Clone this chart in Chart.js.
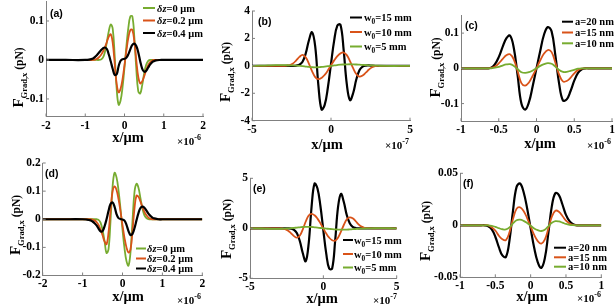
<!DOCTYPE html>
<html>
<head>
<meta charset="utf-8">
<script src="https://cdn.jsdelivr.net/npm/chart.js@4.4.0/dist/chart.umd.min.js"></script>
<style>
html, body { margin: 0; padding: 0; background: #fff; overflow: hidden; width: 616px; height: 306px; }
canvas { position: absolute; }
</style>
</head>
<body>
<script>
// ---- data ----
// (a),(d): x in units of 1e-6
var aX = [-2,-1.5,-1,-0.9,-0.8, -0.75,-0.7,-0.65,-0.6,-0.55, -0.5,-0.45,-0.4,-0.35,-0.3,
          -0.25,-0.2,-0.15,-0.1,-0.05, 0, 0.05,0.1,0.15,0.2,0.25, 0.3,0.35,0.4,0.45,0.5,
          0.55,0.6,0.65,0.7,0.75, 0.8,0.9,1,1.5,2];
var aGreen  = [0,0,0,0,0, 0,0,0,0.001,0.006, 0.02,0.046,0.074,0.091,0.08, 0.011,-0.073,-0.115,-0.104,-0.07,
               -0.019, 0.037,0.084,0.112,0.112,0.059, -0.022,-0.08,-0.086,-0.065,-0.035, -0.013,-0.003,0,0,0, 0,0,0,0,0];
var aOrange = [0,0,0,0,0, 0.001,0.003,0.007,0.013,0.021, 0.032,0.046,0.06,0.066,0.044, -0.0085,-0.061,-0.083,-0.074,-0.049,
               -0.013, 0.025,0.058,0.077,0.077,0.048, 0,-0.043,-0.06,-0.055,-0.042, -0.027,-0.014,-0.006,-0.002,0, 0,0,0,0,0];
var aBlack  = [0,0,0,0.001,0.004, 0.008,0.013,0.019,0.025,0.03, 0.032,0.028,0.014,-0.004,-0.023, -0.038,-0.037,-0.016,-0.002,0.002,
               0.003, 0.006,0.015,0.028,0.039,0.042, 0.036,0.02,-0.003,-0.022,-0.03, -0.028,-0.02,-0.012,-0.006,-0.003, -0.001,0,0,0,0];
var dGreen  = [0,0,0,0,0, 0,0,0,-0.002,-0.012, -0.038,-0.078,-0.12,-0.106,-0.005, 0.113,0.165,0.149,0.103,0.037,
               -0.037, -0.103,-0.149,-0.165,-0.118,-0.007, 0.096,0.126,0.112,0.075,0.038, 0.014,0.004,0,0,0, 0,0,0,0,0];
var dOrange = [0,0,0,0,0, -0.001,-0.004,-0.01,-0.02,-0.036, -0.057,-0.079,-0.089,-0.047,0.03, 0.098,0.117,0.104,0.072,0.028,
               -0.021, -0.066,-0.1,-0.118,-0.108,-0.043, 0.038,0.084,0.08,0.063,0.043, 0.026,0.014,0.006,0.002,0, 0,0,0,0,0];
var dBlack  = [0,0,0,-0.001,-0.004, -0.008,-0.014,-0.022,-0.033,-0.043, -0.042,-0.025,0,0.03,0.054, 0.06,0.045,0.018,0.004,0.001,
               -0.001, -0.005,-0.02,-0.042,-0.056,-0.052, -0.032,-0.004,0.022,0.04,0.045, 0.041,0.031,0.02,0.012,0.006, 0.003,0,0,0,0];

// (b),(e): x in units of 1e-7
var bX = [-5,-4.5,-4,-3.5,-3, -2.8,-2.6,-2.4,-2.2,-2, -1.8,-1.6,-1.4,-1.2,-1, -0.8,-0.6,-0.4,-0.2,0,
          0.2,0.4,0.6,0.8,1, 1.2,1.4,1.6,1.8,2, 2.2,2.4,2.6,2.8,3, 3.5,4,4.5,5];
var bBlack  = [0,0,0,0,0, 0,0,0,0.02,0.08, 0.3,0.9,1.85,2.45,1.42, -1.4,-3.18,-2.85,-1.6,0.15,
               1.84,2.93,3.0,1.17,-1.34, -2.5,-2.0,-1.0,-0.32,-0.06, 0.02,0.03,0.01,0,0, 0,0,0,0];
var bOrange = [0,0,0,0,0, 0.02,0.06,0.18,0.4,0.65, 0.8,0.62,0.17,-0.39,-0.82, -0.97,-0.88,-0.66,-0.34,0.04,
               0.4,0.71,0.91,0.97,0.78, 0.35,-0.17,-0.6,-0.79,-0.7, -0.5,-0.27,-0.1,-0.02,0, 0,0,0,0];
var bGreen  = [0,0.01,0.03,0.05,0.05, 0.045,0.04,0.03,0.015,0, -0.02,-0.05,-0.08,-0.1,-0.11, -0.1,-0.08,-0.055,-0.025,0,
               0.03,0.06,0.085,0.1,0.11, 0.115,0.11,0.1,0.085,0.07, 0.055,0.04,0.03,0.02,0.01, -0.005,-0.01,-0.005,0];
var eBlack  = [0,0,0,0,0, 0,0,0,-0.03,-0.15, -0.5,-1.3,-2.5,-3.3,-1.52, 2.2,4.46,3.98,2.23,-0.22,
               -2.56,-4.04,-4.02,-1.34,2.11, 3.44,2.6,1.3,0.5,0.15, 0.03,0,0,0,0, 0,0,0,0];
var eOrange = [0,0,0,0,0, -0.02,-0.08,-0.24,-0.5,-0.78, -0.94,-0.73,-0.1,0.68,1.28, 1.45,1.3,0.97,0.51,-0.02,
               -0.53,-0.94,-1.19,-1.24,-0.94, -0.34,0.355,0.9,1.1,1.0, 0.72,0.4,0.17,0.05,0.01, 0,0,0,0];
var eGreen  = [0,-0.01,-0.03,-0.05,-0.05, -0.04,-0.03,-0.01,0.01,0.04, 0.07,0.1,0.13,0.15,0.15, 0.13,0.1,0.07,0.03,0,
               -0.03,-0.06,-0.09,-0.11,-0.13, -0.14,-0.14,-0.13,-0.11,-0.09, -0.07,-0.05,-0.035,-0.02,-0.01, 0.005,0.01,0.005,0];

// (c),(f): x in units of 1e-6
var cX = [-1,-0.9,-0.8,-0.7,-0.65, -0.6,-0.55,-0.5,-0.45,-0.4, -0.35,-0.3,-0.25,-0.2,-0.15, -0.1,-0.05,0,0.05,0.1,
          0.15,0.2,0.25,0.3,0.35, 0.4,0.45,0.5,0.55,0.6, 0.65,0.7,0.8,0.9,1];
var cBlack  = [0,0,0,0,0, 0.002,0.012,0.032,0.06,0.085, 0.093,0.057,-0.02,-0.1,-0.117, -0.096,-0.05,0,0.05,0.096,
               0.117,0.105,0.037,-0.044,-0.091, -0.088,-0.065,-0.035,-0.013,-0.003, 0,0,0,0,0];
var cOrange = [0,0,0,0,0, 0.001,0.005,0.014,0.026,0.037, 0.04,0.025,-0.008,-0.042,-0.049, -0.04,-0.021,0,0.023,0.042,
               0.052,0.046,0.016,-0.018,-0.037, -0.036,-0.027,-0.014,-0.005,-0.001, 0,0,0,0,0];
var cGreen  = [0,0,0,0,0, 0,0.002,0.004,0.008,0.011, 0.012,0.007,-0.002,-0.011,-0.013, -0.011,-0.006,0,0.007,0.012,
               0.015,0.013,0.005,-0.005,-0.01, -0.01,-0.007,-0.004,-0.001,0, 0,0,0,0,0];
var fBlack  = [0,0,0,0,0, -0.001,-0.004,-0.011,-0.021,-0.029, -0.0305,-0.0147,0.0139,0.0367,0.0402, 0.032,0.0164,-0.003,-0.0216,-0.0353,
               -0.041,-0.032,-0.0078,0.0184,0.031, 0.029,0.02,0.01,0.004,0.001, 0,0,0,0,0];
var fOrange = [0,0,0,0,0, 0,-0.002,-0.005,-0.01,-0.0135, -0.0143,-0.0068,0.006,0.0158,0.0173, 0.0138,0.007,-0.0013,-0.0093,-0.0152,
               -0.0176,-0.0138,-0.0034,0.0083,0.014, 0.013,0.009,0.0045,0.0018,0.0005, 0,0,0,0,0];
var fGreen  = [0,0,0,0,0, 0,-0.0005,-0.0015,-0.0028,-0.0038, -0.004,-0.002,0.0018,0.0049,0.0054, 0.0043,0.0022,-0.0004,-0.003,-0.0047,
               -0.0055,-0.0043,-0.001,0.0024,0.004, 0.0037,0.0026,0.0013,0.0005,0.0001, 0,0,0,0,0];

var dzLabels = ['δz=0 μm', 'δz=0.2 μm', 'δz=0.4 μm'];
var w0Labels = ['w_0=15 mm', 'w_0=10 mm', 'w_0=5 mm'];
var aLabels  = ['a=20 nm', 'a=15 nm', 'a=10 nm'];

var ticksA = [-2, -1, 0, 1, 2], ticksB = [-5, 0, 5], ticksC = [-1, -0.5, 0, 0.5, 1];
var yTicksA = [-0.1, 0, 0.1], yTicksB = [-4, -2, 0, 2, 4], yTicksC = [-0.1, 0, 0.1];
var yTicksD = [-0.2, -0.1, 0, 0.1, 0.2], yTicksE = [-5, 0, 5], yTicksF = [-0.05, 0, 0.05];

// ---- drawing ----
var GREEN = '#77AC30', ORANGE = '#D95319', BLACK = '#000000', AXIS = '#808080';
var SERIF = '"Liberation Serif", "Times New Roman", serif';
var SANS = '"Liberation Sans", Arial, sans-serif';

function font(sz, it, fam) { return (it ? 'italic ' : '') + 'bold ' + sz + 'px ' + (fam || SERIF); }

function parseLabel(s, size) {
  var parts = [];
  if (s.indexOf('δz') === 0) { parts.push({t: 'δz', it: true, size: size}); s = s.slice(2); }
  var m = s.split('_');
  parts.push({t: m[0], size: size});
  for (var i = 1; i < m.length; i++) {
    parts.push({t: m[i].charAt(0), size: size * 0.7, dy: size * 0.3});
    parts.push({t: m[i].slice(1), size: size});
  }
  return parts;
}

function partsWidth(ctx, parts) {
  var w = 0;
  parts.forEach(function(p) { ctx.font = font(p.size, p.it); w += ctx.measureText(p.t).width; });
  return w;
}

function drawParts(ctx, parts, x, y) {
  parts.forEach(function(p) {
    ctx.font = font(p.size, p.it);
    ctx.fillText(p.t, x, y + (p.dy || 0));
    x += ctx.measureText(p.t).width;
  });
  return x;
}

function decorate(chart, p) {
  var ctx = chart.ctx, area = chart.chartArea;
  var ox = p.cl, oy = p.ct;
  var xs = chart.scales.x, ys = chart.scales.y;
  ctx.save();
  // inward tick marks
  ctx.strokeStyle = AXIS; ctx.lineWidth = 1;
  ctx.beginPath();
  p.xTicks.forEach(function(v) { var px = xs.getPixelForValue(v); ctx.moveTo(px, area.bottom); ctx.lineTo(px, area.bottom - 3); });
  p.yTicks.forEach(function(v) { var py = ys.getPixelForValue(v); ctx.moveTo(area.left, py); ctx.lineTo(area.left + 3, py); });
  ctx.stroke();

  ctx.fillStyle = '#000';
  ctx.textBaseline = 'alphabetic';
  ctx.textAlign = 'left';

  // legend
  var LS = 10.5;
  p.series.forEach(function(s, i) {
    var ry = p.leg.rows[i] - oy;
    ctx.strokeStyle = s.color; ctx.lineWidth = 2;
    ctx.beginPath(); ctx.moveTo(p.leg.x1 - ox, ry); ctx.lineTo(p.leg.x2 - ox, ry); ctx.stroke();
    drawParts(ctx, parseLabel(s.label, LS), p.leg.tx - ox, ry + LS * 0.35);
  });

  // panel letter
  ctx.font = font(10.5, false, SANS);
  ctx.fillText(p.letter, p.letterPos[0] - ox, p.letterPos[1] - oy + 4);

  // y title, rotated
  var yt = [{t: 'F', size: 15}, {t: 'Grad,x', size: 8.5, dy: 3.5}, {t: ' (pN)', size: 11.5}];
  ctx.save();
  ctx.translate(p.yTitle[0] - ox, p.yTitle[1] - oy);
  ctx.rotate(-Math.PI / 2);
  drawParts(ctx, yt, -partsWidth(ctx, yt) / 2, 0);
  ctx.restore();

  // x title
  var xt = [{t: 'x/μm', size: 14.5}];
  drawParts(ctx, xt, p.xTitle[0] - ox - partsWidth(ctx, xt) / 2, p.xTitle[1] - oy + 5);

  // exponent
  drawParts(ctx, [{t: '×10', size: 11}, {t: p.exp, size: 8, dy: -5}], p.expPos[0] - ox, p.expPos[1] - oy + 4);
  ctx.restore();
}

function makePanel(p) {
  var ML = 50, MT = 14, MR = 14, MB = 36;
  p.cl = Math.floor(p.box.l) - ML;
  p.ct = Math.floor(p.box.t) - MT;
  var cw = Math.ceil(p.box.r) + MR - p.cl, ch = Math.ceil(p.box.b) + MB - p.ct;
  var cv = document.createElement('canvas');
  cv.width = cw; cv.height = ch;
  cv.style.left = p.cl + 'px'; cv.style.top = p.ct + 'px';
  cv.style.width = cw + 'px'; cv.style.height = ch + 'px';
  document.body.appendChild(cv);

  var tickFont = {family: SERIF, size: 11.5, weight: 'bold'};
  var n = p.series.length;
  new Chart(cv, {
    type: 'line',
    data: {
      datasets: p.series.map(function(s, i) {
        return {
          label: s.label,
          data: p.x.map(function(x, k) { return {x: x, y: s.y[k]}; }),
          borderColor: s.color,
          borderWidth: s.color === BLACK ? 2.2 : 1.8,
          pointRadius: 0,
          tension: 0.4,
          borderJoinStyle: 'round',
          fill: false,
          order: n - 1 - i
        };
      })
    },
    options: {
      responsive: false,
      animation: false,
      events: [],
      layout: {padding: {left: 0, top: p.box.t - p.ct, right: p.cl + cw - p.box.r, bottom: 0}},
      plugins: {legend: {display: false}, tooltip: {enabled: false}},
      scales: {
        x: {
          type: 'linear', min: p.xMin, max: p.xMax,
          afterBuildTicks: function(s) { s.ticks = p.xTicks.map(function(v) { return {value: v}; }); },
          afterFit: function(s) { s.height = p.ct + ch - p.box.b; },
          grid: {display: false, drawTicks: false},
          border: {color: AXIS, width: 1},
          ticks: {font: tickFont, color: '#000', padding: p.xPad, maxRotation: 0, autoSkip: false,
                  callback: function(v) { return String(v); }}
        },
        y: {
          type: 'linear', min: p.yMin, max: p.yMax,
          afterBuildTicks: function(s) { s.ticks = p.yTicks.map(function(v) { return {value: v}; }); },
          afterFit: function(s) { s.width = p.box.l - p.cl; },
          grid: {display: false, drawTicks: false},
          border: {color: AXIS, width: 1},
          ticks: {font: tickFont, color: '#000', padding: 2, autoSkip: false,
                  callback: function(v) { return String(v); }}
        }
      }
    },
    plugins: [{id: 'decor', afterDraw: function(chart) { decorate(chart, p); }}]
  });
}

var panels = [
  {box: {l: 46, r: 203, t: 1.5, b: 116.5}, x: aX, xMin: -2, xMax: 2, yMin: -0.145, yMax: 0.15,
   xTicks: ticksA, yTicks: yTicksA, xPad: 3,
   series: [{label: dzLabels[0], y: aGreen, color: GREEN}, {label: dzLabels[1], y: aOrange, color: ORANGE}, {label: dzLabels[2], y: aBlack, color: BLACK}],
   leg: {x1: 143, x2: 155, tx: 157, rows: [8, 20.5, 33]}, letter: '(a)', letterPos: [50, 13],
   yTitle: [23, 77.5], xTitle: [128, 137], exp: '-6', expPos: [177, 141]},
  {box: {l: 252, r: 410, t: 11, b: 120.7}, x: bX, xMin: -5, xMax: 5, yMin: -4, yMax: 4,
   xTicks: ticksB, yTicks: yTicksB, xPad: 2,
   series: [{label: w0Labels[0], y: bBlack, color: BLACK}, {label: w0Labels[1], y: bOrange, color: ORANGE}, {label: w0Labels[2], y: bGreen, color: GREEN}],
   leg: {x1: 350, x2: 362, tx: 364, rows: [17.5, 32, 46.5]}, letter: '(b)', letterPos: [258, 21],
   yTitle: [230, 72], xTitle: [327, 144], exp: '-7', expPos: [385, 145]},
  {box: {l: 461, r: 612, t: 15.5, b: 121.2}, x: cX, xMin: -1, xMax: 1, yMin: -0.15, yMax: 0.15,
   xTicks: ticksC, yTicks: yTicksC, xPad: 2,
   series: [{label: aLabels[0], y: cBlack, color: BLACK}, {label: aLabels[1], y: cOrange, color: ORANGE}, {label: aLabels[2], y: cGreen, color: GREEN}],
   leg: {x1: 562, x2: 573, tx: 575, rows: [21.7, 32.5, 43.3]}, letter: '(c)', letterPos: [465, 25],
   yTitle: [440, 67.5], xTitle: [540, 143], exp: '-6', expPos: [587, 145]},
  {box: {l: 42.7, r: 202.3, t: 163, b: 275.5}, x: aX, xMin: -2, xMax: 2, yMin: -0.2, yMax: 0.2,
   xTicks: ticksA, yTicks: yTicksD, xPad: 2,
   series: [{label: dzLabels[0], y: dGreen, color: GREEN}, {label: dzLabels[1], y: dOrange, color: ORANGE}, {label: dzLabels[2], y: dBlack, color: BLACK}],
   leg: {x1: 136, x2: 146, tx: 147, rows: [248.5, 258.5, 268.5]}, letter: '(d)', letterPos: [45, 173],
   yTitle: [20, 225], xTitle: [128, 296], exp: '-6', expPos: [177, 300]},
  {box: {l: 250, r: 396.7, t: 178.3, b: 278.3}, x: bX, xMin: -5, xMax: 5, yMin: -5, yMax: 5,
   xTicks: ticksB, yTicks: yTicksE, xPad: 2,
   series: [{label: w0Labels[0], y: eBlack, color: BLACK}, {label: w0Labels[1], y: eOrange, color: ORANGE}, {label: w0Labels[2], y: eGreen, color: GREEN}],
   leg: {x1: 343, x2: 353, tx: 354, rows: [240, 254, 267.5]}, letter: '(e)', letterPos: [253, 188],
   yTitle: [231, 229], xTitle: [322, 298], exp: '-7', expPos: [373, 300]},
  {box: {l: 460, r: 601.3, t: 173.3, b: 277.3}, x: cX, xMin: -1, xMax: 1, yMin: -0.05, yMax: 0.05,
   xTicks: ticksC, yTicks: yTicksF, xPad: 2,
   series: [{label: aLabels[0], y: fBlack, color: BLACK}, {label: aLabels[1], y: fOrange, color: ORANGE}, {label: aLabels[2], y: fGreen, color: GREEN}],
   leg: {x1: 554, x2: 566, tx: 568, rows: [247.7, 257.3, 266.7]}, letter: '(f)', letterPos: [463, 183],
   yTitle: [430, 231], xTitle: [532, 296], exp: '-6', expPos: [577, 298]}
];

panels.forEach(makePanel);
</script>
</body>
</html>
